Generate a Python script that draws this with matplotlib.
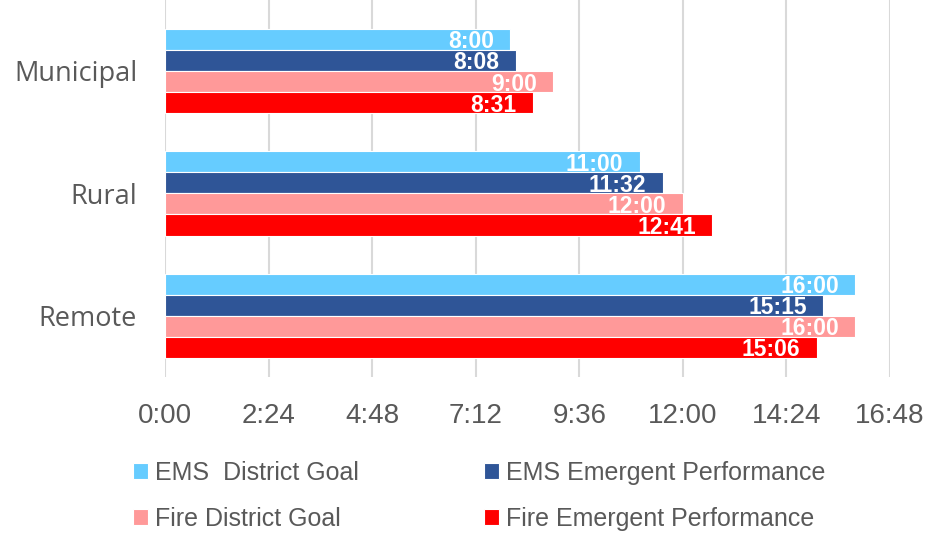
import matplotlib.pyplot as plt
import numpy as np

# Response times (minutes:seconds, plotted as decimal minutes)
categories = ['Remote', 'Rural', 'Municipal']
series_names = ['EMS  District Goal', 'EMS Emergent Performance',
                'Fire District Goal', 'Fire Emergent Performance']
ems_goal = [16 + 0 / 60, 11 + 0 / 60, 8 + 0 / 60]
ems_perf = [15 + 15 / 60, 11 + 32 / 60, 8 + 8 / 60]
fire_goal = [16 + 0 / 60, 12 + 0 / 60, 9 + 0 / 60]
fire_perf = [15 + 6 / 60, 12 + 41 / 60, 8 + 31 / 60]
colors = ['#66CCFF', '#2F5597', '#FF9999', '#FF0000']
xticks = [0, 2.4, 4.8, 7.2, 9.6, 12.0, 14.4, 16.8]


def fmt(v):
    total = int(round(v * 60))
    return f'{total // 60}:{total % 60:02d}'


fig = plt.figure(figsize=(9.43, 5.35), dpi=100)
ax = fig.add_axes([165 / 943, 1 - 377 / 535, (890 - 165) / 943, 377 / 535])

y = np.arange(len(categories))
h = 0.172
offsets = [1.5 * h, 0.5 * h, -0.5 * h, -1.5 * h]
for vals, name, c, off in zip([ems_goal, ems_perf, fire_goal, fire_perf],
                              series_names, colors, offsets):
    bars = ax.barh(y + off, vals, height=h, color=c, edgecolor='white',
                   linewidth=0.8, label=name, zorder=3)
    for b, v in zip(bars, vals):
        ax.text(v - 0.38, b.get_y() + b.get_height() / 2, fmt(v),
                ha='right', va='center_baseline', color='white', fontweight='bold',
                fontsize=16.5, family='Liberation Sans', zorder=4)

ax.set_xlim(0, 16.8)
ax.set_ylim(-0.5, 2.58)
ax.set_xticks(xticks)
ax.set_xticklabels([fmt(t) for t in xticks], family='Liberation Sans', fontsize=20,
                   color='#595959')
ax.set_yticks(y)
ax.set_yticklabels(categories, fontsize=19.5, color='#595959', family='Open Sans')
ax.tick_params(axis='x', length=0, pad=19)
ax.tick_params(axis='y', length=0, pad=20)
ax.grid(axis='x', color='#D9D9D9', linewidth=1.5, zorder=0)
for s in ax.spines.values():
    s.set_visible(False)

# legend filled row by row, like the original
handles, labels = ax.get_legend_handles_labels()
order = [0, 2, 1, 3]
fig.legend([handles[i] for i in order], [labels[i] for i in order],
           loc='upper left', bbox_to_anchor=(133 / 943, 1 - 461 / 535),
           ncol=2, frameon=False, prop={'family': 'Liberation Sans', 'size': 18},
           labelcolor='#595959', handlelength=0.6, handleheight=0.6,
           handletextpad=0.28, columnspacing=5.0, labelspacing=0.88,
           borderpad=0, borderaxespad=0)

fig.savefig('out.png', dpi=100)
